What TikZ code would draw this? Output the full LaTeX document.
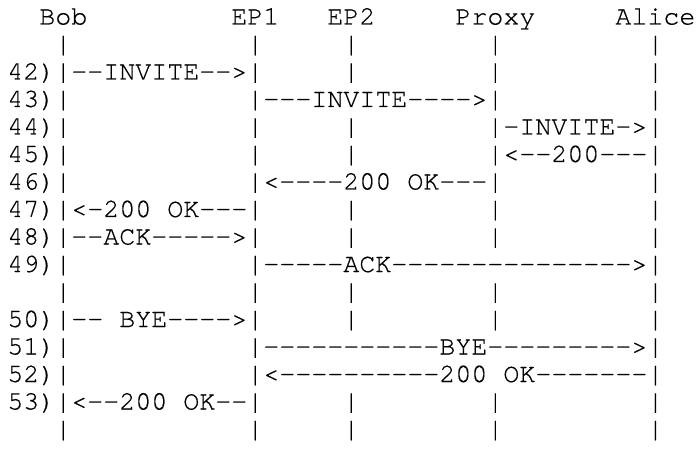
\documentclass[tikz,border=0pt]{standalone}
\usepackage{fontspec}
\setmonofont{TeX Gyre Cursor}[FakeBold=0.5]
\newcommand\gp[1]{\hspace*{#1\fontcharwd\font`M}}
\begin{document}
\begin{tikzpicture}[x=1pt,y=-1pt,
  row/.style={anchor=base west, inner sep=0pt, outer sep=0pt,
    font=\ttfamily\fontsize{26.67pt}{27.5pt}\selectfont}]
\useasboundingbox (0,0) rectangle (698,470);
\node[row] (l0)  at (7.3,24.5)  {\gp{2}Bob\gp{9}EP1\gp{3}EP2\gp{5}Proxy\gp{5}Alice};
\node[row] (l1)  at (7.3,52.0)  {\gp{3}|\gp{11}|\gp{5}|\gp{8}|\gp{9}|};
\node[row] (l42) at (7.3,79.5)  {42)|--INVITE-->|\gp{5}|\gp{8}|\gp{9}|};
\node[row] (l43) at (7.3,107.0) {43)|\gp{11}|---INVITE---->|\gp{9}|};
\node[row] (l44) at (7.3,134.5) {44)|\gp{11}|\gp{5}|\gp{8}|-INVITE->|};
\node[row] (l45) at (7.3,162.0) {45)|\gp{11}|\gp{5}|\gp{8}|<--200---|};
\node[row] (l46) at (7.3,189.5) {46)|\gp{11}|<----200\gp{1}OK---|\gp{9}|};
\node[row] (l47) at (7.3,217.0) {47)|<-200\gp{1}OK---|\gp{5}|\gp{8}|\gp{9}|};
\node[row] (l48) at (7.3,244.5) {48)|--ACK----->|\gp{5}|\gp{8}|\gp{9}|};
\node[row] (l49) at (7.3,272.0) {49)|\gp{11}|-----ACK--------------->|};
\node[row] (lb)  at (7.3,299.5) {\gp{3}|\gp{11}|\gp{5}|\gp{8}|\gp{9}|};
\node[row] (l50) at (7.3,327.0) {50)|--\gp{1}BYE---->|\gp{5}|\gp{8}|\gp{9}|};
\node[row] (l51) at (7.3,354.5) {51)|\gp{11}|-----------BYE--------->|};
\node[row] (l52) at (7.3,382.0) {52)|\gp{11}|<----------200\gp{1}OK-------|};
\node[row] (l53) at (7.3,409.5) {53)|<--200\gp{1}OK--|\gp{5}|\gp{8}|\gp{9}|};
\node[row] (le)  at (7.3,437.0) {\gp{3}|\gp{11}|\gp{5}|\gp{8}|\gp{9}|};
\end{tikzpicture}
\end{document}
